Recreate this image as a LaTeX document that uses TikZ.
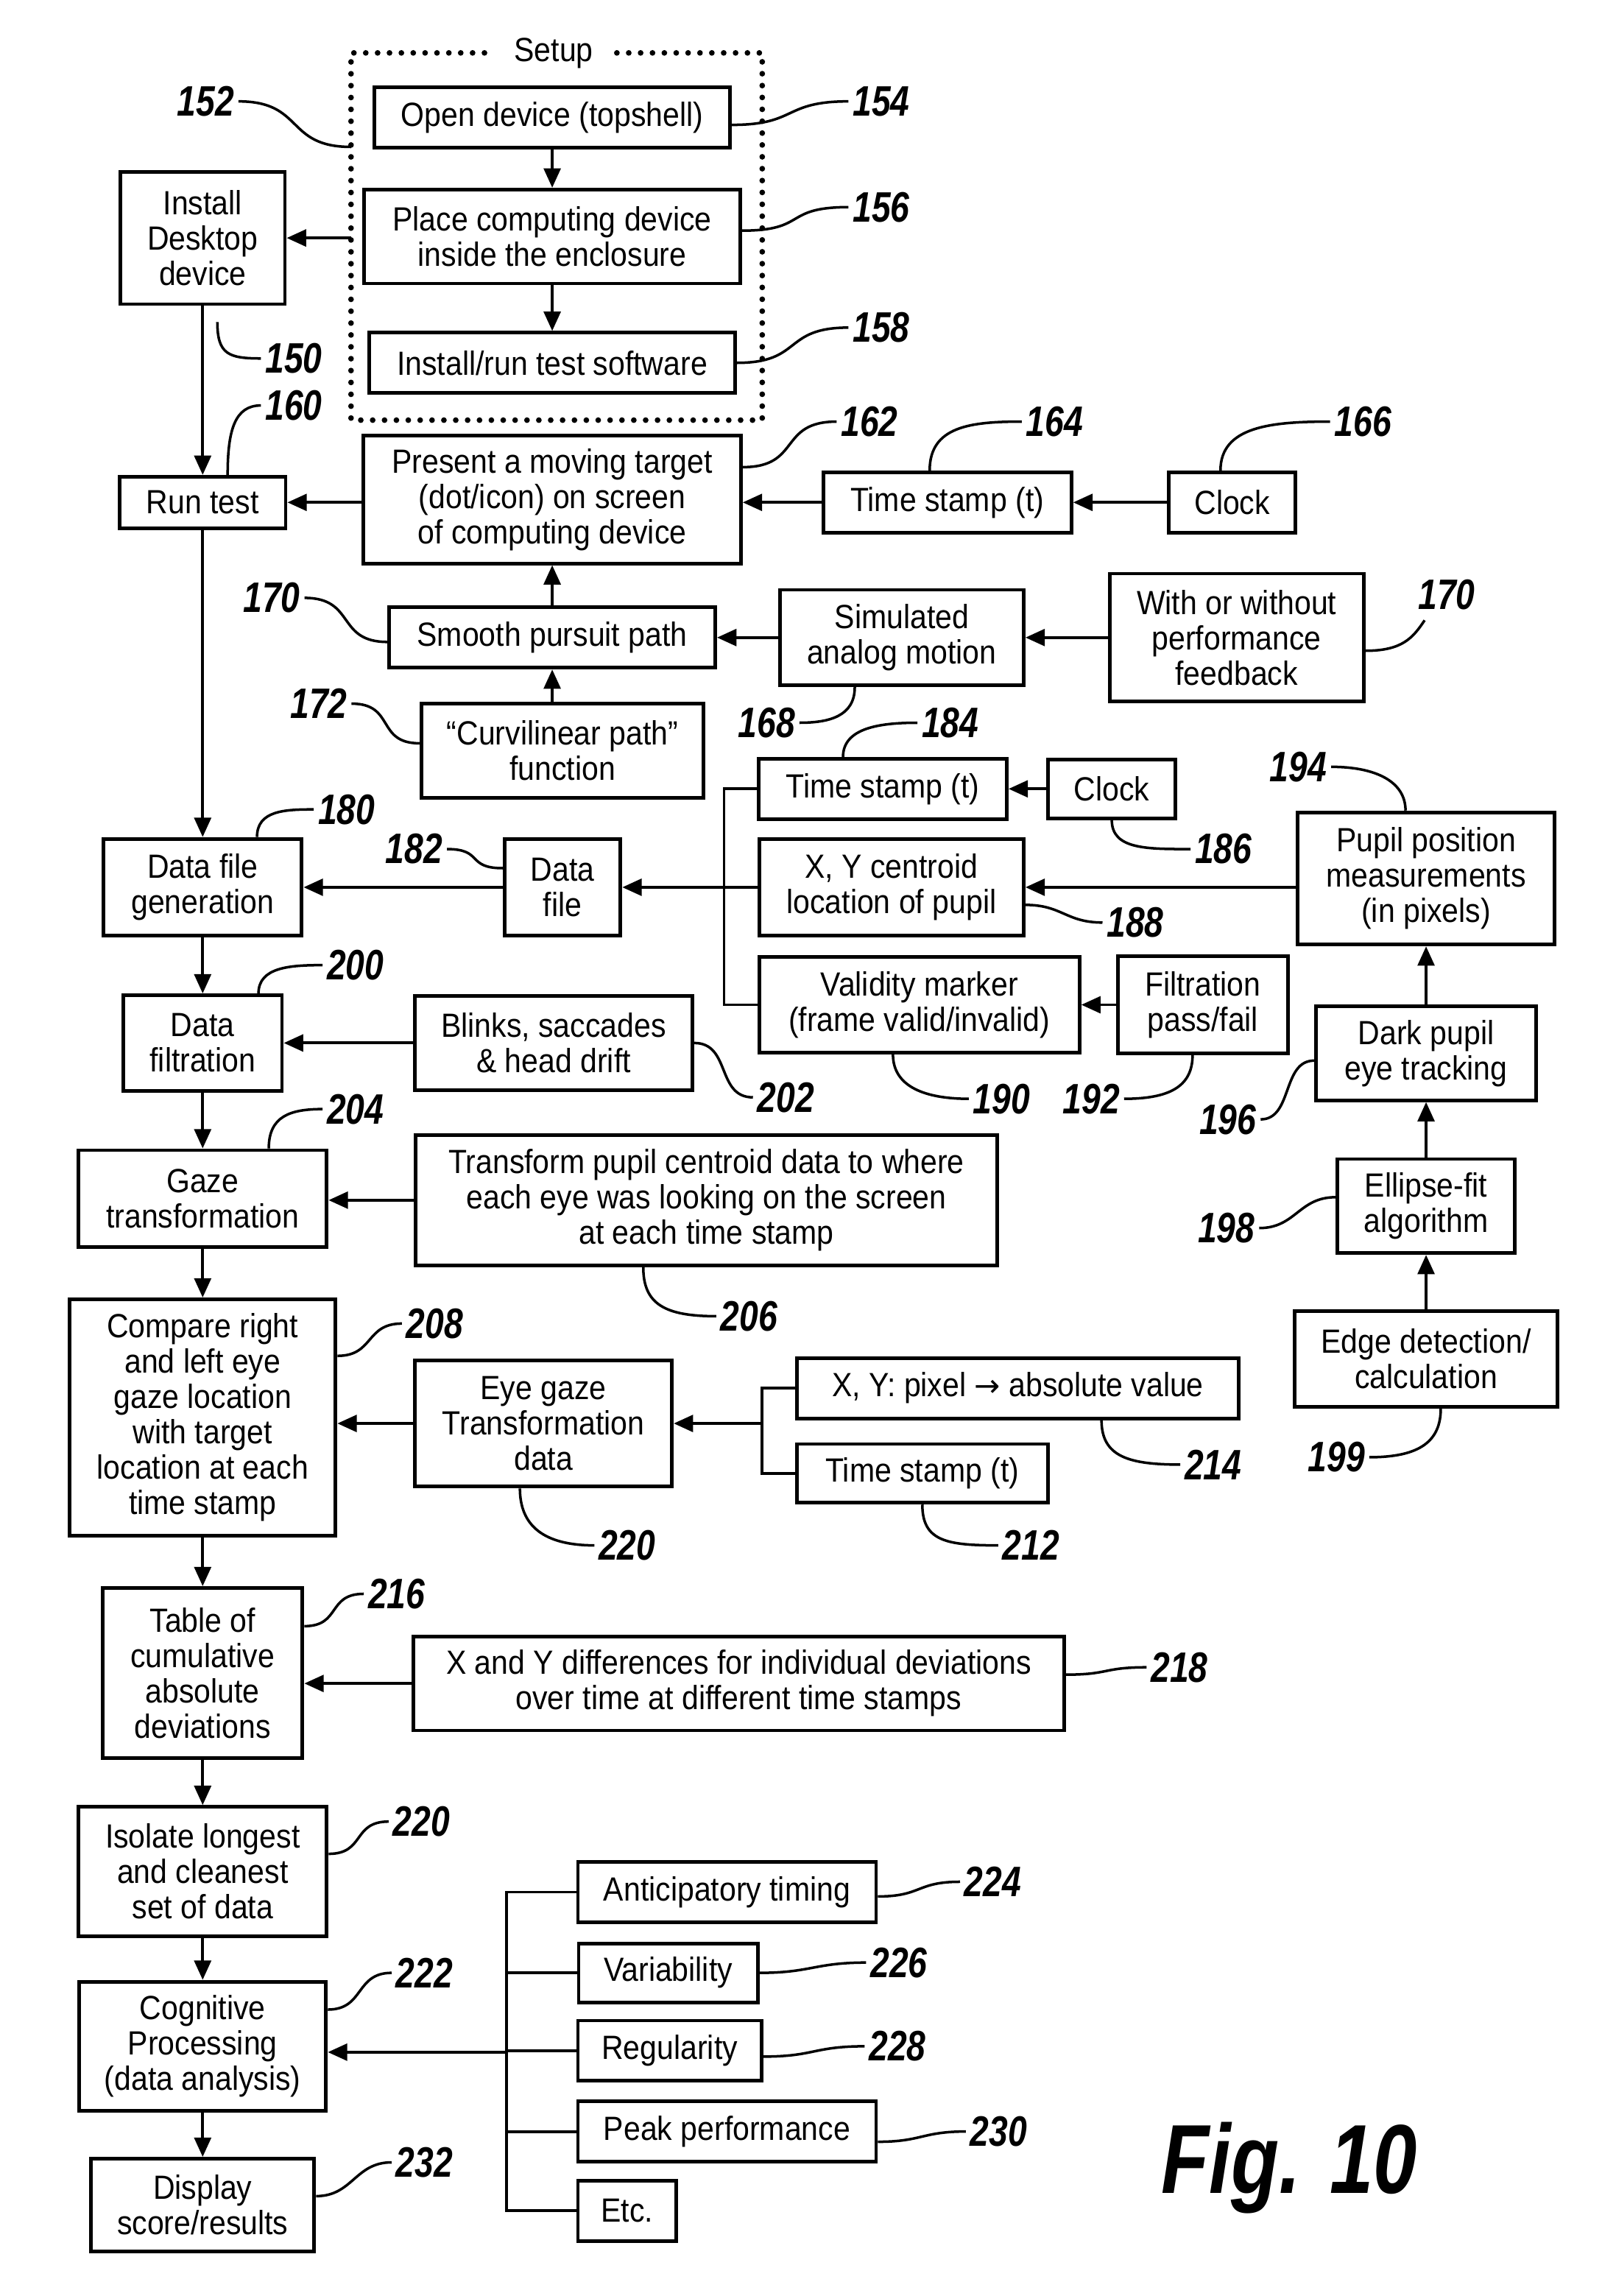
\documentclass[tikz,border=0pt]{standalone}
\usepackage{fontspec}
\setmainfont{Liberation Sans}[FakeStretch=0.9]
\newfontfamily\numfont{Liberation Sans}[FakeStretch=0.8]
\newfontfamily\symfont{DejaVu Sans}
\usetikzlibrary{arrows.meta,calc}

\begin{document}
\begin{tikzpicture}[x=0.02cm,y=-0.02cm,
  box/.style={draw, line width=1.4pt, inner sep=0pt, align=center, font=\fontsize{13}{13.7}\selectfont},
  sz/.style 2 args={minimum width=#1*0.02cm, minimum height=#2*0.02cm},
  num/.style={inner sep=1.5pt, font=\numfont\bfseries\itshape\fontsize{16.5}{18}\selectfont},
  arr/.style={line width=1.1pt, -{Triangle[length=7.5pt,width=6.5pt]}},
  link/.style={line width=1.1pt},
  lead/.style={line width=1pt},
  dots/.style={line width=2.2pt, line cap=round, dash pattern=on 0pt off 4.6pt}]
  \useasboundingbox (0,0) rectangle (1100,1563);

  % setup group
  \node[inner xsep=9pt, inner ysep=2pt, font=\fontsize{13}{13.7}\selectfont] (setup) at (377,36) {Setup};
  \draw[dots] (setup.east) -| (519,286) -| (239,36) -- (setup.west);
  \coordinate (setupW) at (239,162);
  \coordinate (c152) at (239,100);
  \node[box, sz={242}{41}] (open) at (376,80) {Open device (topshell)};
  \node[box, sz={256}{64}] (place) at (376,161) {Place computing device\\inside the enclosure};
  \node[box, sz={249}{41}] (inst) at (376,247) {Install/run test software};

  % left column
  \node[box, sz={112}{90}] (desk) at (138,162) {Install\\Desktop\\device};
  \node[box, sz={113}{35}] (run) at (138,342) {Run test};
  \node[box, sz={135}{66}] (dfgen) at (138,604) {Data file\\generation};
  \node[box, sz={108}{65}] (dfilt) at (138,710) {Data\\filtration};
  \node[box, sz={169}{66}] (gaze) at (138,816) {Gaze\\transformation};
  \node[box, sz={181}{161}] (compare) at (138,965) {Compare right\\and left eye\\gaze location\\with target\\location at each\\time stamp};
  \node[box, sz={136}{116}] (table) at (138,1139) {Table of\\cumulative\\absolute\\deviations};
  \node[box, sz={169}{88}] (isolate) at (138,1274) {Isolate longest\\and cleanest\\set of data};
  \node[box, sz={168}{88}] (cog) at (138,1393) {Cognitive\\Processing\\(data analysis)};
  \node[box, sz={152}{63}] (display) at (138,1501) {Display\\score/results};

  % target presentation
  \node[box, sz={257}{87}] (present) at (376,340) {Present a moving target\\(dot/icon) on screen\\of computing device};
  \node[box, sz={169}{41}] (tsA) at (645,342) {Time stamp (t)};
  \node[box, sz={86}{41}] (clockA) at (839,342) {Clock};
  \node[box, sz={222}{41}] (smooth) at (376,434) {Smooth pursuit path};
  \node[box, sz={166}{65}] (sim) at (614,434) {Simulated\\analog motion};
  \node[box, sz={173}{87}] (feedback) at (842,434) {With or without\\performance\\feedback};
  \node[box, sz={192}{64}] (curv) at (383,511) {“Curvilinear path”\\function};

  % data file
  \node[box, sz={79}{66}] (datafile) at (383,604) {Data\\file};
  \node[box, sz={169}{41}] (tsB) at (601,537) {Time stamp (t)};
  \node[box, sz={87}{40}] (clockB) at (757,537) {Clock};
  \node[box, sz={180}{66}] (xy) at (607,604) {X, Y centroid\\location of pupil};
  \node[box, sz={218}{65}] (valid) at (626,684) {Validity marker\\(frame valid/invalid)};
  \node[box, sz={116}{66}] (filt) at (819,684) {Filtration\\pass/fail};
  \node[box, sz={175}{90}] (pupil) at (971,598) {Pupil position\\measurements\\(in pixels)};
  \node[box, sz={150}{64}] (dark) at (971,717) {Dark pupil\\eye tracking};
  \node[box, sz={121}{64}] (ellipse) at (971,821) {Ellipse-fit\\algorithm};
  \node[box, sz={179}{65}] (edge) at (971,925) {Edge detection/\\calculation};
  \coordinate (brA) at (493,604);

  % filtration and gaze
  \node[box, sz={189}{64}] (blinks) at (377,710) {Blinks, saccades\\\& head drift};
  \node[box, sz={396}{89}] (transform) at (481,817) {Transform pupil centroid data to where\\each eye was looking on the screen\\at each time stamp};
  \node[box, sz={175}{86}] (eyegaze) at (370,969) {Eye gaze\\Transformation\\data};
  \node[box, sz={301}{41}] (xypix) at (693,945) {X, Y: pixel {\symfont\fontsize{12}{13}\selectfont →} absolute value};
  \node[box, sz={171}{40}] (tsC) at (628,1003) {Time stamp (t)};
  \coordinate (brB) at (519,969);
  \node[box, sz={443}{64}] (xydiff) at (503,1146) {X and Y differences for individual deviations\\over time at different time stamps};

  % analysis
  \node[box, sz={203}{41}] (antic) at (495,1288) {Anticipatory timing};
  \node[box, sz={122}{40}] (var) at (455,1343) {Variability};
  \node[box, sz={125}{41}] (reg) at (456,1396) {Regularity};
  \node[box, sz={203}{41}] (peak) at (495,1451) {Peak performance};
  \node[box, sz={67}{41}] (etc) at (427,1505) {Etc.};
  \coordinate (brC) at (345,1397);

  % arrows
  \draw[arr] (open.south) -- (place.north);
  \draw[arr] (place.south) -- (inst.north);
  \draw[arr] (setupW) -- (setupW -| desk.east);
  \draw[arr] (desk.south) -- (run.north);
  \draw[arr] (present.west |- run.east) -- (run.east);
  \draw[arr] (tsA.west) -- (tsA.west -| present.east);
  \draw[arr] (clockA.west) -- (tsA.east);
  \draw[arr] (smooth.north) -- (present.south);
  \draw[arr] (sim.west) -- (smooth.east);
  \draw[arr] (feedback.west) -- (sim.east);
  \draw[arr] (smooth.south |- curv.north) -- (smooth.south);
  \draw[arr] (run.south) -- (dfgen.north);
  \draw[arr] (clockB.west) -- (tsB.east);
  \draw[arr] (pupil.west |- xy.east) -- (xy.east);
  \draw[arr] (filt.west) -- (valid.east);
  \draw[link] (tsB.west) -| (brA) |- (valid.west);
  \draw[link] (xy.west) -- (brA);
  \draw[arr] (brA) -- (datafile.east);
  \draw[arr] (datafile.west) -- (dfgen.east);
  \draw[arr] (dark.north) -- (pupil.south);
  \draw[arr] (ellipse.north) -- (dark.south);
  \draw[arr] (edge.north) -- (ellipse.south);
  \draw[arr] (dfgen.south) -- (dfilt.north);
  \draw[arr] (blinks.west) -- (dfilt.east);
  \draw[arr] (dfilt.south) -- (gaze.north);
  \draw[arr] (transform.west) -- (transform.west -| gaze.east);
  \draw[arr] (gaze.south) -- (compare.north);
  \draw[arr] (eyegaze.west) -- (eyegaze.west -| compare.east);
  \draw[link] (xypix.west) -| (brB) |- (tsC.west);
  \draw[arr] (brB) -- (eyegaze.east);
  \draw[arr] (compare.south) -- (table.north);
  \draw[arr] (xydiff.west) -- (xydiff.west -| table.east);
  \draw[arr] (table.south) -- (isolate.north);
  \draw[arr] (isolate.south) -- (cog.north);
  \draw[arr] (cog.south) -- (display.north);
  \draw[link] (antic.west) -| (brC) |- (etc.west);
  \draw[link] (var.west) -- (var.west -| brC);
  \draw[link] (reg.west) -- (reg.west -| brC);
  \draw[link] (peak.west) -- (peak.west -| brC);
  \draw[arr] (brC) -- (brC -| cog.east);

  % reference numerals
  \node[num] (n152) at (140,69) {152};
  \node[num] (n154) at (600,69) {154};
  \node[num] (n156) at (600,141) {156};
  \node[num] (n158) at (600,223) {158};
  \node[num] (n150) at (200,244) {150};
  \node[num] (n160) at (200,276) {160};
  \node[num] (n162) at (592,287) {162};
  \node[num] (n164) at (718,287) {164};
  \node[num] (n166) at (928,287) {166};
  \node[num] (n170a) at (185,407) {170};
  \node[num] (n170b) at (985,405) {170};
  \node[num] (n168) at (522,492) {168};
  \node[num] (n172) at (217,479) {172};
  \node[num] (n184) at (647,492) {184};
  \node[num] (n180) at (236,551) {180};
  \node[num] (n182) at (282,578) {182};
  \node[num] (n186) at (833,578) {186};
  \node[num] (n188) at (773,628) {188};
  \node[num] (n194) at (884,522) {194};
  \node[num] (n190) at (682,748) {190};
  \node[num] (n192) at (743,748) {192};
  \node[num] (n196) at (836,762) {196};
  \node[num] (n202) at (535,747) {202};
  \node[num] (n200) at (242,657) {200};
  \node[num] (n198) at (835,836) {198};
  \node[num] (n199) at (910,992) {199};
  \node[num] (n204) at (242,755) {204};
  \node[num] (n206) at (510,896) {206};
  \node[num] (n208) at (296,901) {208};
  \node[num] (n214) at (826,997) {214};
  \node[num] (n220a) at (427,1052) {220};
  \node[num] (n212) at (702,1052) {212};
  \node[num] (n216) at (270,1085) {216};
  \node[num] (n218) at (803,1135) {218};
  \node[num] (n220b) at (287,1240) {220};
  \node[num] (n222) at (289,1343) {222};
  \node[num] (n224) at (676,1281) {224};
  \node[num] (n226) at (612,1336) {226};
  \node[num] (n228) at (611,1393) {228};
  \node[num] (n230) at (680,1451) {230};
  \node[num] (n232) at (289,1472) {232};
  \node[num, font=\numfont\bfseries\itshape\fontsize{38}{40}\selectfont] (fig) at (878,1476) {Fig. 10};

  % leader lines
  \draw[lead] (n152.east) .. controls +(45,0) and +(-45,0) .. (c152);
  \draw[lead] ($(open.east)+(0,5)$) .. controls +(45,0) and +(-45,0) .. (n154.west);
  \draw[lead] ($(place.east)+(0,-4)$) .. controls +(45,0) and +(-45,0) .. (n156.west);
  \draw[lead] (inst.east) .. controls +(45,0) and +(-45,0) .. (n158.west);
  \draw[lead] ($(desk.south)+(10,11)$) .. controls +(0,22) and +(-22,0) .. (n150.west);
  \draw[lead] ($(run.north)+(17,0)$) .. controls +(0,-30) and +(-18,0) .. (n160.west);
  \draw[lead] ($(present.east)+(0,-22)$) .. controls +(40,0) and +(-40,0) .. (n162.west);
  \draw[lead] ($(tsA.north)+(-12,0)$) .. controls +(0,-30) and +(-35,0) .. (n164.west);
  \draw[lead] ($(clockA.north)+(-8,0)$) .. controls +(0,-30) and +(-40,0) .. (n166.west);
  \draw[lead] (n170a.east) .. controls +(35,0) and +(-35,0) .. ($(smooth.west)+(0,3)$);
  \draw[lead] ($(feedback.east)+(0,9)$) .. controls +(25,0) and +(-8,12) .. ($(n170b.south)+(-15,4)$);
  \draw[lead] ($(sim.south)+(-32,0)$) .. controls +(0,20) and +(20,0) .. (n168.east);
  \draw[lead] (n172.east) .. controls +(30,0) and +(-30,0) .. ($(curv.west)+(0,-5)$);
  \draw[lead] ($(tsB.north)+(-27,0)$) .. controls +(0,-20) and +(-25,0) .. (n184.west);
  \draw[lead] ($(dfgen.north)+(37,0)$) .. controls +(0,-18) and +(-20,0) .. (n180.west);
  \draw[lead] (n182.east) .. controls +(25,0) and +(-25,0) .. ($(datafile.west)+(0,-13)$);
  \draw[lead] (clockB.south) .. controls +(0,20) and +(-30,0) .. (n186.west);
  \draw[lead] ($(xy.east)+(0,12)$) .. controls +(25,0) and +(-25,0) .. (n188.west);
  \draw[lead] (n194.east) .. controls +(30,0) and +(0,-20) .. ($(pupil.north)+(-14,0)$);
  \draw[lead] ($(valid.south)+(-18,0)$) .. controls +(0,22) and +(-30,0) .. (n190.west);
  \draw[lead] (n192.east) .. controls +(30,0) and +(0,22) .. ($(filt.south)+(-7,0)$);
  \draw[lead] (n196.east) .. controls +(22,0) and +(-22,0) .. ($(dark.west)+(0,5)$);
  \draw[lead] (blinks.east) .. controls +(25,0) and +(-25,0) .. (n202.west);
  \draw[lead] ($(dfilt.north)+(38,0)$) .. controls +(0,-18) and +(-22,0) .. (n200.west);
  \draw[lead] (n198.east) .. controls +(25,0) and +(-25,0) .. ($(ellipse.west)+(0,-6)$);
  \draw[lead] (n199.east) .. controls +(35,0) and +(0,22) .. ($(edge.south)+(10,0)$);
  \draw[lead] ($(gaze.north)+(45,0)$) .. controls +(0,-22) and +(-22,0) .. (n204.west);
  \draw[lead] ($(transform.south)+(-43,0)$) .. controls +(0,25) and +(-35,0) .. (n206.west);
  \draw[lead] ($(compare.east)+(0,-42)$) .. controls +(25,0) and +(-25,0) .. (n208.west);
  \draw[lead] ($(xypix.south)+(57,0)$) .. controls +(0,25) and +(-35,0) .. (n214.west);
  \draw[lead] ($(eyegaze.south)+(-16,0)$) .. controls +(0,25) and +(-35,0) .. (n220a.west);
  \draw[lead] (tsC.south) .. controls +(0,25) and +(-35,0) .. (n212.west);
  \draw[lead] ($(table.east)+(0,-32)$) .. controls +(25,0) and +(-25,0) .. (n216.west);
  \draw[lead] ($(xydiff.east)+(0,-6)$) .. controls +(30,0) and +(-30,0) .. (n218.west);
  \draw[lead] ($(isolate.east)+(0,-12)$) .. controls +(25,0) and +(-25,0) .. (n220b.west);
  \draw[lead] ($(cog.east)+(0,-25)$) .. controls +(25,0) and +(-25,0) .. (n222.west);
  \draw[lead] ($(antic.east)+(0,3)$) .. controls +(30,0) and +(-30,0) .. (n224.west);
  \draw[lead] (var.east) .. controls +(35,0) and +(-35,0) .. (n226.west);
  \draw[lead] ($(reg.east)+(0,4)$) .. controls +(35,0) and +(-35,0) .. (n228.west);
  \draw[lead] ($(peak.east)+(0,7)$) .. controls +(30,0) and +(-30,0) .. (n230.west);
  \draw[lead] ($(display.east)+(0,-6)$) .. controls +(25,0) and +(-25,0) .. (n232.west);
\end{tikzpicture}
\end{document}
